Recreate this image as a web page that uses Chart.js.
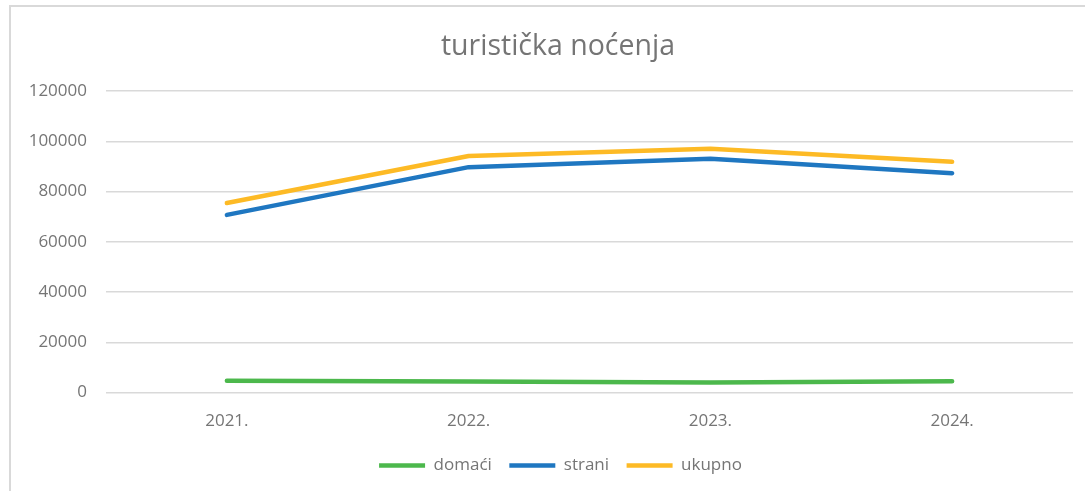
<!DOCTYPE html>
<html>
<head>
<meta charset="utf-8">
<script src="https://cdn.jsdelivr.net/npm/chart.js@4/dist/chart.umd.min.js"></script>
<style>
  html, body { margin: 0; padding: 0; background: #ffffff; overflow: hidden; }
  #frame { position: absolute; left: 9px; top: 5px; width: 1200px; height: 600px; border: 2px solid #d9d9d9; box-sizing: border-box; }
  #wrap { position: absolute; left: 0; top: 0; width: 1085px; height: 491px; }
  #title { position: absolute; left: 358px; width: 400px; top: 27px; height: 34px; line-height: 34px; text-align: center;
           font-family: 'Open Sans', Lato, sans-serif; font-size: 28.5px; color: #757575; white-space: nowrap; }
</style>
</head>
<body>
<div id="frame"></div>
<div id="wrap"><canvas id="c" width="1085" height="491"></canvas></div>
<div id="title"></div>
<script>
const categories = ['2021.', '2022.', '2023.', '2024.'];
const domaci = [4700, 4400, 4000, 4500];
const strani = [70700, 89700, 93000, 87300];
const ukupno = [75400, 94100, 97000, 91800];
const yTicks = [0, 20000, 40000, 60000, 80000, 100000, 120000];
const titleText = 'turistička noćenja';

document.getElementById('title').textContent = titleText;

const fontFamily = "'Open Sans', Lato, 'Liberation Sans', sans-serif";
const textColor = '#757575';

const legendShift = {
  id: 'legendShift',
  afterLayout(chart) {
    if (chart.legend) { chart.legend.left += 19; chart.legend.right += 19; }
  }
};

new Chart(document.getElementById('c'), {
  type: 'line',
  data: {
    labels: categories,
    datasets: [
      { label: 'domaći', data: domaci, borderColor: '#4cb84c', backgroundColor: '#4cb84c', borderWidth: 4.5, pointRadius: 0, tension: 0, borderCapStyle: 'round', borderJoinStyle: 'round' },
      { label: 'strani', data: strani, borderColor: '#1f77c1', backgroundColor: '#1f77c1', borderWidth: 4.5, pointRadius: 0, tension: 0, borderCapStyle: 'round', borderJoinStyle: 'round' },
      { label: 'ukupno', data: ukupno, borderColor: '#fdba25', backgroundColor: '#fdba25', borderWidth: 4.5, pointRadius: 0, tension: 0, borderCapStyle: 'round', borderJoinStyle: 'round' }
    ]
  },
  plugins: [legendShift],
  options: {
    responsive: false,
    animation: false,
    events: [],
    layout: { padding: { left: 10, right: 12, top: 91, bottom: 7 } },
    plugins: {
      title: { display: false },
      legend: {
        position: 'bottom',
        labels: {
          color: textColor,
          font: { family: fontFamily, size: 17 },
          usePointStyle: true,
          pointStyle: 'line',
          pointStyleWidth: 46,
          boxHeight: 17,
          padding: 17.5
        }
      },
      tooltip: { enabled: false }
    },
    scales: {
      x: {
        offset: true,
        grid: { display: false, offset: true },
        border: { display: false },
        afterFit: (scale) => { scale.height = 47; },
        ticks: { color: textColor, font: { family: fontFamily, size: 17 }, padding: 10, maxRotation: 0, autoSkip: false }
      },
      y: {
        min: 0,
        max: 120000,
        afterBuildTicks: (scale) => { scale.ticks = yTicks.map(v => ({ value: v })); },
        afterFit: (scale) => { scale.width = 96; },
        grid: { color: '#d9d9d9', lineWidth: 1.5, drawTicks: false },
        border: { display: false },
        ticks: { color: textColor, font: { family: fontFamily, size: 17 }, padding: 19, callback: (v) => String(v) }
      }
    }
  }
});
</script>
</body>
</html>
